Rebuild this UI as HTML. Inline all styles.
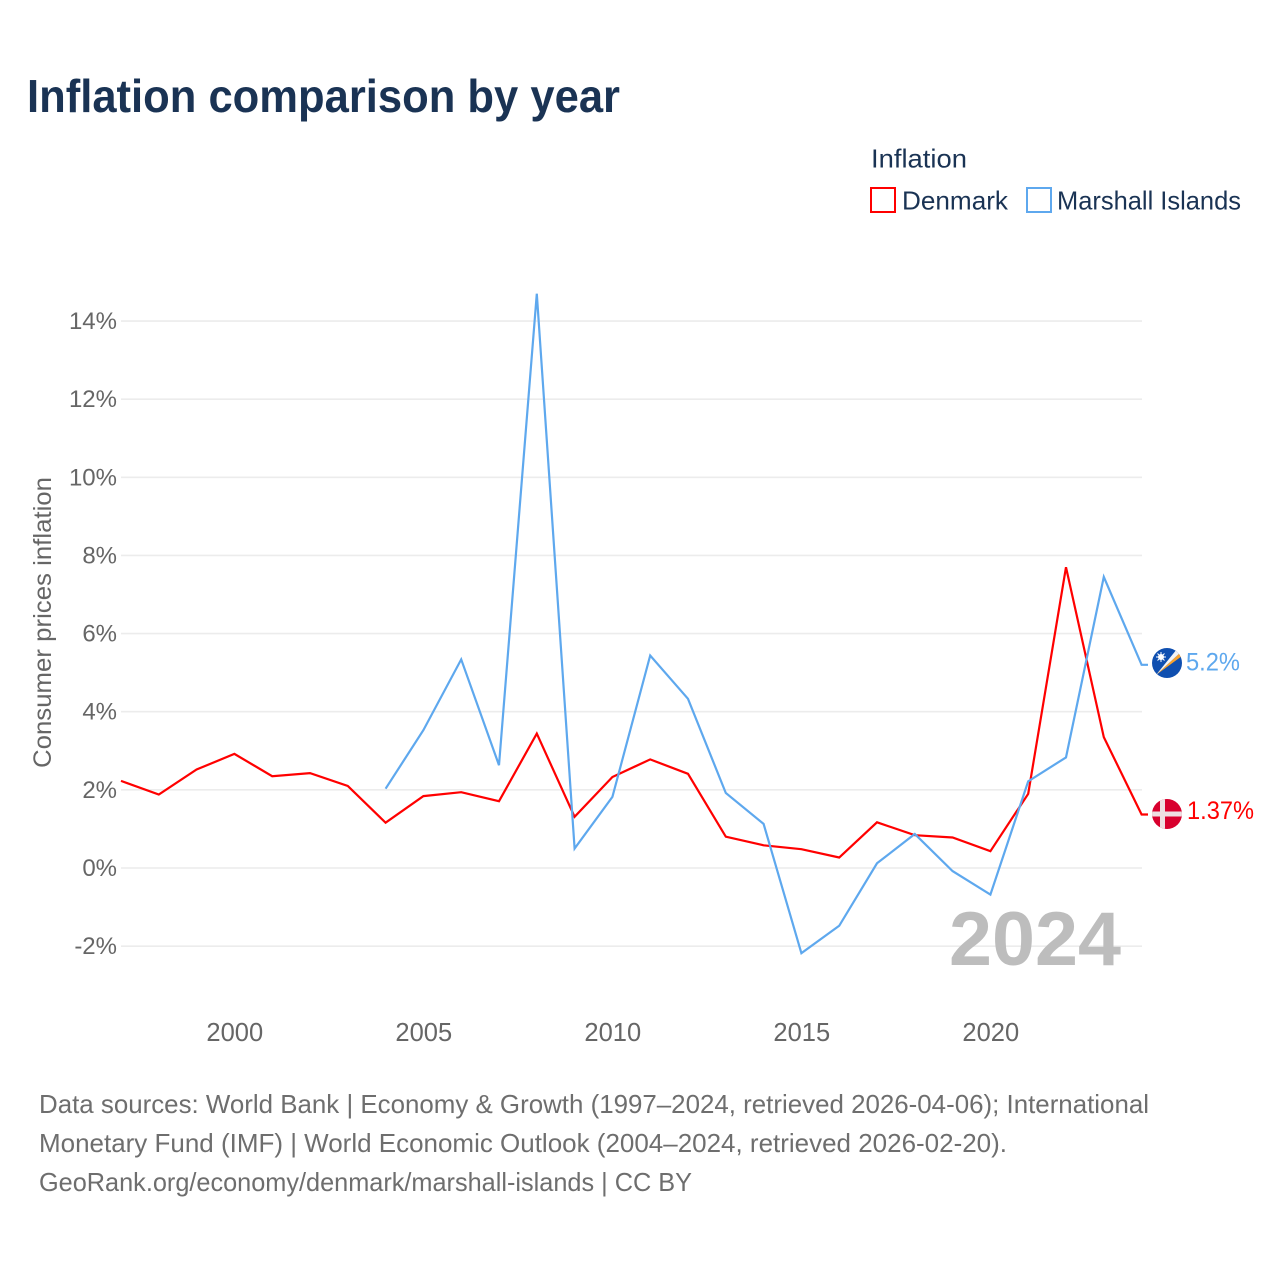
<!DOCTYPE html>
<html lang="en">
<head>
<meta charset="utf-8">
<title>Inflation comparison by year</title>
<style>
html,body{margin:0;padding:0;background:#fff;}
svg{display:block;font-family:"Liberation Sans",sans-serif;}
</style>
</head>
<body>
<svg id="chart" xmlns="http://www.w3.org/2000/svg" width="1280" height="1280" viewBox="0 0 1280 1280">
  <rect width="1280" height="1280" fill="#ffffff"/>
  <text x="27" y="112" font-size="46" font-weight="700" fill="#1a3354" textLength="593" lengthAdjust="spacingAndGlyphs">Inflation comparison by year</text>

  <g>
    <text x="871" y="167.5" font-size="26" fill="#1a3354" textLength="96" lengthAdjust="spacingAndGlyphs">Inflation</text>
    <rect x="871" y="188" width="24" height="24" fill="none" stroke="#ff0000" stroke-width="2"/>
    <text x="902" y="209.5" font-size="26" fill="#1a3354" textLength="106" lengthAdjust="spacingAndGlyphs">Denmark</text>
    <rect x="1027" y="188" width="24" height="24" fill="none" stroke="#5ea8ee" stroke-width="2"/>
    <text x="1057" y="209.5" font-size="26" fill="#1a3354" textLength="184" lengthAdjust="spacingAndGlyphs">Marshall Islands</text>
  </g>

  <g id="grid"></g>
  <g id="yticks"></g>
  <g id="xticks"></g>
  <text transform="translate(51,768) rotate(-90)" font-size="25" fill="#666666" textLength="291" lengthAdjust="spacingAndGlyphs">Consumer prices inflation</text>

  <text x="1121" y="965" text-anchor="end" font-size="76" font-weight="700" fill="#bdbdbd" textLength="172" lengthAdjust="spacingAndGlyphs">2024</text>

  <g id="series"></g>

  <g>
    <clipPath id="clip-mh"><circle cx="1167" cy="663" r="15"/></clipPath>
    <g clip-path="url(#clip-mh)">
      <rect x="1152" y="648" width="30" height="30" fill="#0f4fb0"/>
      <polygon points="1156,675 1182,651 1182,656" fill="#f7a22e"/>
      <polygon points="1156,675 1177,649 1182,651" fill="#f4f4f4"/>
      <circle cx="1161" cy="657" r="3" fill="#ffffff"/>
      <path d="M1161 652v10M1156 657h10M1157.5 653.5l7 7M1164.5 653.5l-7 7" stroke="#ffffff" stroke-width="1"/>
    </g>
  </g>
  <g>
    <clipPath id="clip-dk"><circle cx="1167" cy="814" r="15"/></clipPath>
    <g clip-path="url(#clip-dk)">
      <rect x="1152" y="799" width="30" height="30" fill="#d8002e"/>
      <rect x="1152" y="811.5" width="30" height="5" fill="#eedfe2"/>
      <rect x="1160" y="799" width="5" height="30" fill="#eedfe2"/>
    </g>
  </g>
  <text id="label-mh" x="1186" y="670.5" font-size="25" fill="#5ea8ee" textLength="54" lengthAdjust="spacingAndGlyphs">5.2%</text>
  <text id="label-dk" x="1187" y="819" font-size="25" fill="#ff0000" textLength="67" lengthAdjust="spacingAndGlyphs">1.37%</text>

  <g font-size="26" fill="#6e6e6e">
    <text x="39" y="1113" textLength="1110" lengthAdjust="spacingAndGlyphs">Data sources: World Bank | Economy &amp; Growth (1997–2024, retrieved 2026-04-06); International</text>
    <text x="39" y="1152" textLength="968" lengthAdjust="spacingAndGlyphs">Monetary Fund (IMF) | World Economic Outlook (2004–2024, retrieved 2026-02-20).</text>
    <text x="39" y="1191" textLength="653" lengthAdjust="spacingAndGlyphs">GeoRank.org/economy/denmark/marshall-islands | CC BY</text>
  </g>
</svg>
<script>
const years = [1997,1998,1999,2000,2001,2002,2003,2004,2005,2006,2007,2008,2009,2010,2011,2012,2013,2014,2015,2016,2017,2018,2019,2020,2021,2022,2023,2024];
const denmark = [2.23,1.88,2.52,2.92,2.35,2.43,2.1,1.16,1.84,1.94,1.71,3.44,1.31,2.33,2.78,2.41,0.8,0.58,0.48,0.27,1.17,0.84,0.78,0.43,1.9,7.7,3.35,1.37];
const marshallIslands = [null,null,null,null,null,null,null,2.03,3.53,5.34,2.63,14.7,0.5,1.82,5.44,4.33,1.92,1.13,-2.18,-1.48,0.12,0.87,-0.08,-0.68,2.22,2.83,7.45,5.2];
const yTickValues = [-2,0,2,4,6,8,10,12,14];
const xTickValues = [2000,2005,2010,2015,2020];

const NS = 'http://www.w3.org/2000/svg';
function xScale(year){ return 121 + (year - 1997) * 37.8; }
function yScale(value){ return 868 - value * 39.07; }

const grid = document.getElementById('grid');
const yticks = document.getElementById('yticks');
const xticks = document.getElementById('xticks');
const seriesGroup = document.getElementById('series');

yTickValues.forEach(function(v){
  const line = document.createElementNS(NS, 'line');
  
  
  line.setAttribute('x1', 121);
  line.setAttribute('x2', 1142);
  line.setAttribute('y1', yScale(v));
  line.setAttribute('y2', yScale(v));
  line.setAttribute('stroke', '#ececec');
  line.setAttribute('stroke-width', 1.6);
  grid.appendChild(line);
  const t = document.createElementNS(NS, 'text');
  
  
  t.setAttribute('x', 117);
  t.setAttribute('y', yScale(v) + 8);
  t.setAttribute('text-anchor', 'end');
  t.setAttribute('font-size', 24);
  t.setAttribute('fill', '#666666');
  t.textContent = v + '%';
  yticks.appendChild(t);
});

xTickValues.forEach(function(v){
  const t = document.createElementNS(NS, 'text');
  
  
  t.setAttribute('x', xScale(v) + 0.4);
  t.setAttribute('y', 1041);
  t.setAttribute('text-anchor', 'middle');
  t.setAttribute('font-size', 25.5);
  t.setAttribute('fill', '#666666');
  t.textContent = v;
  xticks.appendChild(t);
});

function drawSeries(values, color, name){
  let d = '';
  values.forEach(function(v, i){
    if (v === null) return;
    d += (d ? 'L' : 'M') + xScale(years[i]).toFixed(1) + ' ' + yScale(v).toFixed(1);
  });
  d += 'H1148';
  const p = document.createElementNS(NS, 'path');
  
  
  p.setAttribute('d', d);
  p.setAttribute('fill', 'none');
  p.setAttribute('stroke', color);
  p.setAttribute('stroke-width', 2.2);
  p.setAttribute('stroke-linejoin', 'miter');
  seriesGroup.appendChild(p);
}
drawSeries(denmark, '#ff0000', 'line-denmark');
drawSeries(marshallIslands, '#5ea8ee', 'line-marshall-islands');
</script>
</body>
</html>
